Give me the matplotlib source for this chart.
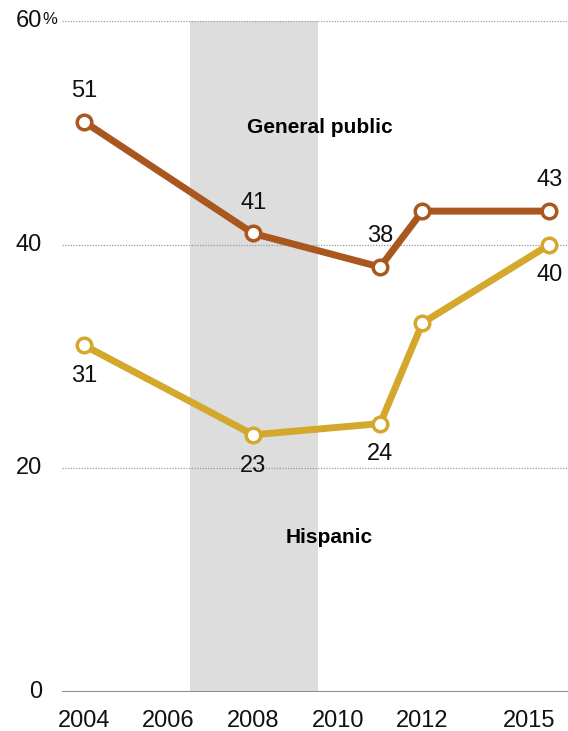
import matplotlib
matplotlib.use("Agg")
import matplotlib.pyplot as plt
from matplotlib import font_manager

years = [2004, 2008, 2011, 2012, 2015]
general_public = [51, 41, 38, 43, 43]
hispanic = [31, 23, 24, 33, 40]

gp_labels = [(2004, 51, "above"), (2008, 41, "above"), (2011, 38, "above"), (2015, 43, "above")]
hisp_labels = [(2004, 31, "below"), (2008, 23, "below"), (2011, 24, "below"), (2015, 40, "below")]

x_ticks = [2004, 2006, 2008, 2010, 2012]
x_tick_labels = ["2004", "2006", "2008", "2010", "2012"]
y_ticks = [0, 20, 40, 60]
y_tick_labels = ["0", "20", "40", "60"]

recession = (2006.5, 2009.53)

GP_COLOR = "#A9561F"
HISP_COLOR = "#D4A82C"
SHADE = "#DDDDDD"

available = {f.name for f in font_manager.fontManager.ttflist}
base_font = "Liberation Sans" if "Liberation Sans" in available else "DejaVu Sans"
bold_font = "Liberation Sans Narrow" if "Liberation Sans Narrow" in available else base_font

plt.rcParams["font.family"] = [base_font, "DejaVu Sans"]

fig = plt.figure(figsize=(5.68, 7.31), dpi=100)
W, H = 568, 731
ax = fig.add_axes([62 / W, (H - 692) / H, (W - 62) / W, (692 - 21) / H])
ax.set_xlim(2003.48, 2015.44)
ax.set_ylim(0, 60)
ax.axis("off")

# recession band
ax.axvspan(recession[0], recession[1], ymin=0, ymax=1.0, color=SHADE, lw=0, zorder=0)

# gridlines
for y in y_ticks[1:]:
    ax.axhline(y, color="#9a9a9a", lw=0.9, ls=(0, (1, 1.2)), zorder=1)
ax.axhline(0, color="#8c8c8c", lw=2.2, zorder=2)

# lines
for vals, col in [(general_public, GP_COLOR), (hispanic, HISP_COLOR)]:
    ax.plot(years, vals, color=col, lw=5.0, zorder=3, solid_capstyle="round")
    ax.plot(years, vals, ls="none", marker="o", ms=10.5, mfc="white", mec=col, mew=2.5, zorder=4)

fs = 17
off = 2.75
for x, y, pos in gp_labels + hisp_labels:
    dy = off if pos == "above" else -off
    ax.text(x, y + dy, str(y), ha="center", va="center", fontsize=fs, color="#111111")

# series names
ax.text(2009.58, 50.5, "General public", ha="center", va="center", fontsize=15,
        fontweight="bold", family=[bold_font, "DejaVu Sans"], color="#000000")
ax.text(2009.79, 13.8, "Hispanic", ha="center", va="center", fontsize=15,
        fontweight="bold", family=[bold_font, "DejaVu Sans"], color="#000000")

# x tick labels
for x, lab in zip(x_ticks, x_tick_labels):
    ax.text(x, -2.55, lab, ha="center", va="center", fontsize=fs, color="#111111")
ax.text(2014.53, -2.55, "2015", ha="center", va="center", fontsize=fs, color="#111111")

# y tick labels
for y, lab in zip(y_ticks, y_tick_labels):
    ax.text(2003.48 - 20 / 42.3, y, lab, ha="right", va="center", fontsize=fs, color="#111111")
ax.text(2003.48 - 19.5 / 42.3, 60.1, "%", ha="left", va="center", fontsize=12, color="#111111")

fig.savefig("out.png", dpi=100)
